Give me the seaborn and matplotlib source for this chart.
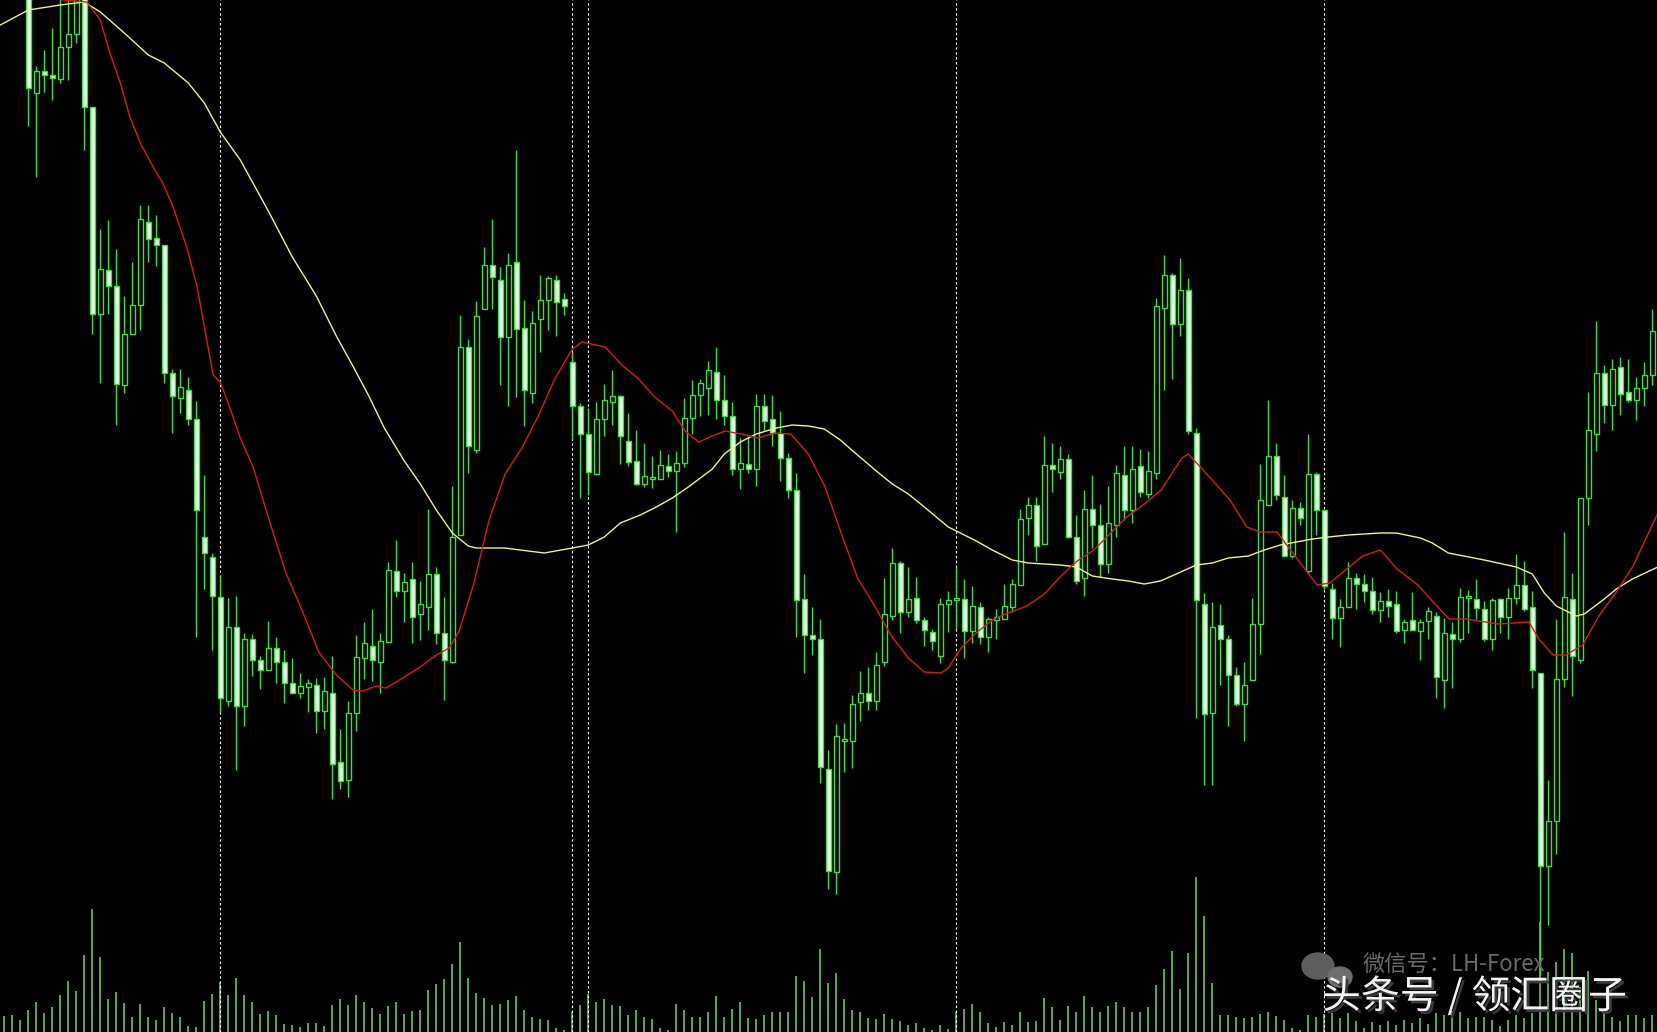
import matplotlib
matplotlib.use("Agg")
import matplotlib.pyplot as plt
import matplotlib.patheffects as pe
from matplotlib.patches import Ellipse
import pandas as pd
import seaborn as sns

# OHLC in chart points, one entry per bar (bars 0-2 sit above the visible window)
opens = [1030, 1045, 1038, 1030, 907, 929, 925, 921, 953, 966,
         1008, 893, 686, 730, 714, 615, 666, 695, 778, 762,
         755, 627, 602, 610, 581, 463, 443, 403, 299, 373,
         294, 361, 340, 330, 352, 338, 317, 307, 313, 315,
         289, 307, 238, 220, 287, 342, 354, 338, 358, 429,
         409, 421, 386, 393, 426, 367, 338, 465, 653, 550,
         691, 735, 720, 663, 738, 672, 607, 681, 700, 720,
         701, 638, 594, 566, 526, 581, 598, 604, 559, 539,
         516, 521, 521, 534, 529, 537, 582, 605, 612, 628,
         600, 584, 531, 536, 531, 594, 581, 567, 542, 510,
         401, 365, 361, 231, 128, 259, 259, 298, 307, 299,
         338, 384, 437, 388, 402, 380, 368, 344, 396, 400,
         401, 369, 393, 363, 380, 381, 393, 415, 482, 495,
         456, 535, 528, 541, 463, 422, 491, 475, 436, 475,
         525, 490, 534, 506, 527, 692, 725, 676, 710, 567,
         396, 287, 375, 361, 325, 296, 320, 376, 495, 544,
         503, 444, 492, 429, 526, 490, 411, 382, 393, 422,
         416, 409, 390, 399, 396, 370, 380, 369, 379, 384,
         320, 366, 361, 402, 401, 391, 361, 401, 383, 402,
         415, 393, 327, 134, 179, 321, 401, 340, 502, 566,
         627, 595, 633, 608, 600, 612, 625]
highs = [1055, 1058, 1062, 1040, 934, 950, 972, 1005, 1005, 1015,
         1012, 893, 771, 780, 751, 704, 738, 795, 795, 785,
         755, 631, 631, 623, 599, 525, 447, 424, 402, 404,
         367, 366, 344, 379, 363, 350, 342, 327, 321, 322,
         323, 344, 271, 299, 365, 378, 391, 367, 438, 460,
         427, 438, 419, 491, 433, 403, 514, 685, 661, 699,
         753, 781, 733, 747, 850, 700, 689, 725, 724, 725,
         707, 648, 597, 592, 598, 616, 630, 605, 587, 570,
         557, 544, 550, 546, 549, 602, 620, 621, 639, 653,
         625, 598, 562, 564, 606, 606, 605, 589, 547, 527,
         426, 393, 381, 250, 276, 277, 305, 329, 333, 348,
         422, 452, 439, 433, 423, 383, 371, 402, 409, 433,
         421, 414, 398, 383, 391, 416, 421, 491, 503, 503,
         564, 557, 554, 546, 485, 510, 525, 496, 514, 535,
         554, 554, 551, 549, 702, 745, 727, 742, 722, 572,
         407, 398, 396, 365, 333, 338, 402, 536, 600, 557,
         525, 500, 498, 566, 528, 490, 417, 401, 438, 427,
         426, 423, 408, 411, 409, 381, 408, 381, 393, 388,
         382, 378, 412, 410, 421, 399, 402, 402, 412, 446,
         439, 409, 327, 220, 381, 468, 427, 502, 608, 679,
         635, 641, 643, 641, 623, 638, 691]
lows = [1022, 1030, 1028, 874, 823, 908, 900, 917, 920, 957,
        850, 666, 617, 686, 575, 607, 666, 670, 738, 734,
        617, 567, 587, 575, 363, 411, 350, 288, 294, 230,
        274, 324, 311, 330, 317, 297, 307, 302, 288, 267,
        271, 201, 211, 203, 269, 321, 319, 307, 358, 403,
        378, 357, 360, 370, 356, 300, 337, 465, 527, 547,
        691, 691, 615, 594, 603, 574, 597, 648, 670, 664,
        685, 561, 502, 505, 525, 564, 575, 536, 534, 515,
        513, 512, 521, 523, 468, 533, 566, 584, 585, 581,
        575, 525, 511, 527, 514, 569, 554, 519, 502, 363,
        327, 345, 217, 111, 106, 228, 232, 279, 290, 290,
        334, 380, 367, 383, 377, 354, 350, 337, 368, 371,
        342, 357, 356, 348, 361, 381, 388, 415, 465, 439,
        456, 508, 521, 462, 416, 404, 452, 423, 427, 463,
        480, 477, 503, 502, 521, 610, 621, 664, 566, 282,
        215, 215, 315, 274, 294, 259, 320, 346, 495, 500,
        444, 442, 475, 426, 465, 411, 361, 353, 393, 391,
        398, 386, 378, 383, 367, 357, 370, 340, 361, 302,
        292, 312, 358, 367, 381, 359, 350, 367, 361, 396,
        389, 312, 25, 75, 146, 313, 304, 337, 475, 549,
        577, 570, 585, 598, 580, 594, 615]
closes = [1045, 1038, 1050, 912, 929, 925, 922, 953, 966, 1008,
          893, 686, 731, 714, 616, 666, 695, 781, 761, 755,
          627, 604, 613, 581, 490, 447, 404, 302, 373, 294,
          361, 340, 330, 352, 338, 317, 307, 314, 317, 289,
          309, 236, 219, 287, 343, 357, 340, 359, 430, 409,
          418, 383, 396, 426, 367, 340, 463, 653, 554, 684,
          735, 723, 663, 735, 671, 610, 677, 700, 722, 698,
          694, 594, 566, 528, 581, 600, 604, 564, 538, 516,
          524, 523, 535, 529, 537, 582, 605, 617, 630, 600,
          584, 531, 537, 531, 594, 579, 567, 542, 510, 400,
          365, 361, 233, 129, 264, 261, 296, 307, 299, 335,
          386, 437, 388, 401, 380, 370, 359, 396, 400, 402,
          369, 394, 363, 381, 383, 394, 416, 481, 495, 454,
          535, 531, 541, 463, 419, 491, 475, 436, 477, 527,
          490, 531, 508, 529, 694, 725, 676, 710, 569, 400,
          286, 373, 361, 325, 296, 315, 376, 500, 544, 505,
          444, 492, 482, 526, 490, 414, 382, 393, 422, 416,
          409, 390, 399, 394, 369, 378, 370, 378, 389, 323,
          367, 361, 403, 404, 392, 361, 400, 383, 402, 415,
          391, 330, 134, 179, 321, 403, 344, 502, 570, 627,
          595, 631, 606, 600, 612, 625, 669]
volumes = [16, 17, 12, 22, 30, 19, 25, 37, 51, 41,
           77, 123, 75, 33, 40, 29, 15, 28, 15, 12,
           25, 19, 15, 6, 5, 31, 38, 50, 37, 54,
           37, 30, 18, 21, 17, 8, 7, 5, 9, 9,
           6, 27, 33, 27, 37, 30, 24, 18, 26, 30,
           18, 21, 22, 42, 48, 53, 68, 90, 54, 39,
           34, 27, 28, 32, 36, 22, 15, 13, 12, 4,
           2, 20, 27, 38, 30, 33, 27, 26, 17, 22,
           15, 13, 4, 2, 28, 22, 15, 15, 20, 36,
           15, 23, 30, 14, 13, 17, 20, 20, 20, 56,
           51, 35, 83, 49, 59, 33, 22, 20, 14, 13,
           18, 13, 11, 7, 9, 4, 2, 7, 3, 20,
           23, 28, 20, 9, 5, 10, 7, 20, 10, 11,
           34, 25, 12, 26, 20, 36, 25, 20, 26, 30,
           25, 20, 20, 25, 47, 63, 81, 43, 79, 155,
           116, 49, 17, 17, 15, 14, 15, 18, 20, 16,
           12, 4, 2, 17, 15, 18, 19, 14, 19, 11,
           4, 10, 7, 11, 7, 12, 9, 14, 8, 19,
           17, 21, 20, 14, 15, 15, 12, 6, 12, 17,
           14, 19, 110, 60, 70, 83, 79, 45, 61, 32,
           19, 15, 11, 17, 17, 14, 17]

slow_ma_bar = [-0.5, 3, 7, 10, 12, 15, 18, 20, 23, 25, 27, 29.5, 33, 36, 39, 41.5,
               43.5, 45.5, 47.5, 50, 52, 54, 56, 58, 59, 62.5, 67.5, 71, 73, 75, 77,
               79.5, 81.5, 83.5, 85.5, 88.5, 90, 92, 94, 96.5, 98.5, 100.5, 102.5,
               104.5, 106.5, 109, 111, 113, 115, 118, 119.5, 121.5, 123.5, 126, 128,
               130, 132, 134, 136, 138.5, 140.5, 142.5, 144.5, 146.5, 149, 151, 153,
               155.5, 157.5, 159.5, 161.5, 163.5, 165.5, 168, 170, 172, 174, 177,
               178.5, 180.5, 185, 189, 191, 192.5, 194, 196.5, 197.5, 200, 201.5,
               203.5, 206.7]
slow_ma = [975, 990, 995, 998, 988, 967, 945, 937, 917, 897, 868, 840, 789, 743, 704, 664,
           635, 605, 572, 539, 516, 490, 467, 454, 452, 452, 447, 452, 455, 463, 477,
           485, 493, 502, 513, 531, 546, 558, 566, 572, 575, 574, 571,
           560, 546, 529, 516, 506, 493, 473, 467, 459, 450, 440, 437,
           436, 435, 433, 424, 421, 419, 416, 419, 426, 435, 437, 442,
           444, 450, 455, 458, 461, 463, 465, 466, 467, 467, 462,
           457, 447, 440, 433, 426, 407, 394, 384, 386, 401, 411,
           421, 433]
fast_ma_bar = [-0.5, 3, 7.3, 10.3, 12, 13.2, 14.5, 15.7, 17, 18.6, 19.8, 21.1, 22.8, 24.1,
               26.1, 27, 28.2, 29.5, 31.1, 33.1, 35.2, 37.3, 39.3, 41.5, 43.6, 44.8,
               46.5, 47.7, 49.8, 51.8, 54, 55.6, 56.8, 58.1, 58.7, 60.6, 62.6, 64.7,
               66.8, 68.8, 71, 72.2, 75.1, 77.2, 79.3, 81.3, 83.5, 85.1, 86.8, 88.5,
               90.1, 92.1, 94.2, 96.3, 98.3, 100.5, 102.6, 104.6, 106.7, 108.8, 110.8,
               113, 115, 117.1, 118, 119.6, 121.6, 123.7, 125.8, 127.8, 130, 132.1,
               134.1, 136.2, 138.3, 140.3, 142.5, 144.6, 147.2, 148, 151.1, 153.2,
               155.3, 157, 159.1, 160.3, 162, 164.1, 165.7, 167.8, 169.8, 172, 174.1,
               176.7, 178.6, 180.6, 182.7, 186.8, 190.6, 191.8, 193.6, 195.2, 197.3,
               199.3, 201.5, 203.6, 206.7]
fast_ma = [1040, 1020, 1000, 998, 980, 947, 917, 883, 857, 833, 817, 793, 753, 713,
           625, 618, 592, 562, 533, 480, 427, 388, 348, 325, 310, 309,
           314, 312, 322, 332, 345, 352, 368, 401, 417, 480, 526, 552,
           585, 621, 651, 658, 653, 635, 621, 603, 589, 569, 558, 564,
           569, 566, 562, 567, 566, 546, 513, 467, 421, 394, 365,
           342, 328, 327, 332, 352, 368, 381, 388, 394, 406, 424,
           439, 450, 467, 483, 496, 510, 542, 546, 519, 500,
           473, 468, 468, 455, 437, 415, 417, 431, 444, 450, 431,
           415, 398, 381, 381, 376, 378, 361, 345, 345, 355,
           384, 408, 434, 487]
# bars that open a new session (period separators)
session_starts = [27, 71, 73, 119, 165]

bars = pd.DataFrame({"open": opens, "high": highs, "low": lows,
                     "close": closes, "volume": volumes})
bars["bar"] = range(len(bars))
bars["bear"] = bars["close"] < bars["open"]

GREEN = "#3ee03e"
VOL_GREEN = "#62c862"
BEAR_FILL = "#eeffee"

sns.set_theme(style="dark", rc={"axes.facecolor": "black",
                                "figure.facecolor": "black",
                                "axes.grid": False})
plt.rcParams["font.family"] = ["Noto Sans CJK SC", "DejaVu Sans"]

W, H = 1658, 1032
fig = plt.figure(figsize=(W / 100, H / 100), dpi=100)
ax_vol = fig.add_axes([0, 0, 1, 1])
ax_vol.vlines(bars["bar"], 0, bars["volume"], color=VOL_GREEN, lw=1.2)
ax_vol.set_ylim(0, H)
ax_vol.set_xlim(-0.54, 206.71)
ax_vol.axis("off")

ax = ax_vol.twinx()

for b in session_starts:
    ax.axvline(b, color="white", lw=0.8, ls=(0, (2.2, 2.2)), zorder=1)

ax.vlines(bars["bar"], bars["low"], bars["high"], color=GREEN, lw=1.0, zorder=2)
body_low = bars[["open", "close"]].min(axis=1)
body_h = (bars["open"] - bars["close"]).abs().clip(lower=1)
fills = [BEAR_FILL if bear else "black" for bear in bars["bear"]]
ax.bar(bars["bar"], body_h, bottom=body_low, width=0.55, color=fills,
       edgecolor=GREEN, linewidth=1.0, zorder=3)

sns.lineplot(x=slow_ma_bar, y=slow_ma, ax=ax, color="#f2f28a", lw=1.0, zorder=4)
sns.lineplot(x=fast_ma_bar, y=fast_ma, ax=ax, color="#d81c1c", lw=1.0, zorder=4)
ax.set_xlim(-0.54, 206.71)
ax.set_ylim(-32, 1000)
ax.axis("off")

# watermark: grey wechat line sits just above the white toutiao line
fig.add_artist(Ellipse((1318 / W, 1 - 966 / H), 32 / W, 26 / H,
                       transform=fig.transFigure, color="#5e5e5e", zorder=5))
fig.add_artist(Ellipse((1340 / W, 1 - 977 / H), 24 / W, 20 / H,
                       transform=fig.transFigure, color="#6e6e6e", zorder=5))
fig.text(1363 / W, 1 - 964 / H, "微信号：LH-Forex", fontsize=16,
         color="#6a6a6a", va="center", ha="left", zorder=6)
fig.text(1322 / W, 1 - 997 / H, "头条号 / 领汇圈子", fontsize=28,
         color="#f4f4f4", va="center", ha="left", zorder=7,
         path_effects=[pe.withSimplePatchShadow(offset=(2, -2),
                                                shadow_rgbFace="#3a3a3a",
                                                alpha=1.0)])

fig.savefig("out.png", dpi=100, facecolor="black")
